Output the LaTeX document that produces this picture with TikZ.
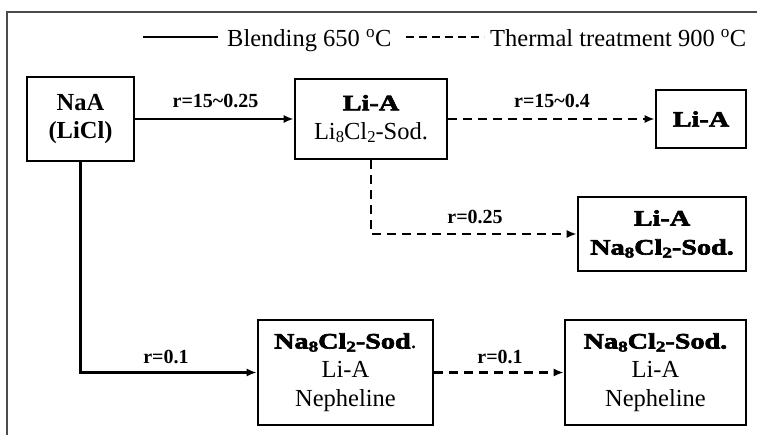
\documentclass[tikz,border=0pt]{standalone}
\usepackage{fontspec}
\setmainfont{Liberation Serif}
\newfontfamily\heavy{Liberation Serif}[UprightFont={* Bold},FakeStretch=1.28,FakeBold=3]
\usetikzlibrary{arrows.meta}
\newcommand\hv[1]{{\fontsize{22}{29}\heavy #1}}
\newcommand\sbs[1]{\raisebox{-0.3ex}{\scalebox{0.68}{#1}}}
\begin{document}
\begin{tikzpicture}[x=1pt,y=-1pt,
 box/.style={draw,line width=2.6pt,align=center,inner sep=0pt,font=\fontsize{24.5}{29}\selectfont},
 conn/.style={line width=2.2pt,-{Latex[length=10pt,width=8pt]}},
 dconn/.style={conn,dash pattern=on 9pt off 6pt},
 lab/.style={anchor=base,inner sep=0pt,font=\bfseries\fontsize{20}{24}\selectfont},
 leg/.style={anchor=base west,inner sep=0pt,font=\fontsize{24.5}{29}\selectfont}]
\useasboundingbox (0,0) rectangle (757,435);
\fill[white] (0,0) rectangle (757,435);
\draw[line width=1.5pt,black!70] (7,435) -- (7,12) -- (757,12);
% legend
\coordinate (l1a) at (143,37); \coordinate (l1b) at (218,37);
\draw[line width=1.5pt] (l1a) -- (l1b);
\node[leg] (t1) at (227,47) {Blending 650 \textsuperscript{o}C};
\coordinate (l2a) at (406,37); \coordinate (l2b) at (484,37);
\draw[line width=1.5pt,dash pattern=on 8pt off 5pt] (l2a) -- (l2b);
\node[leg] (t2) at (490,47) {Thermal treatment 900 \textsuperscript{o}C};
% boxes
\node[box,font=\bfseries\fontsize{24.5}{28}\selectfont,minimum width=107pt,minimum height=84pt] (naa) at (80.5,119) {NaA\\(LiCl)};
\node[box,minimum width=152pt,minimum height=80pt] (lia1) at (371,119) {\hv{Li-A}\\Li\sbs{8}Cl\sbs{2}-Sod.};
\node[box,minimum width=90pt,minimum height=58pt] (lia2) at (701,119) {\hv{Li-A}};
\node[box,minimum width=168pt,minimum height=74pt] (lia3) at (662,234) {\hv{Li-A}\\\hv{Na\sbs{8}Cl\sbs{2}-Sod.}};
\node[box,minimum width=175pt,minimum height=105pt] (sod1) at (345.5,372.5) {\hv{Na\sbs{8}Cl\sbs{2}-Sod}.\\Li-A\\Nepheline};
\node[box,minimum width=181pt,minimum height=105pt] (sod2) at (655.5,372.5) {\hv{Na\sbs{8}Cl\sbs{2}-Sod.}\\Li-A\\Nepheline};
% connectors
\draw[conn] (naa.east) -- (lia1.west);
\draw[dconn] (lia1.east) -- (lia2.west);
\draw[dconn] (lia1.south) |- (lia3.west);
\draw[conn] (naa.south) |- (sod1.west);
\draw[dconn] (sod1.east) -- (sod2.west);
% labels
\node[lab] (r1) at (215.5,108) {r=15\textasciitilde0.25};
\node[lab] (r2) at (552,108) {r=15\textasciitilde0.4};
\node[lab] (r3) at (475,224) {r=0.25};
\node[lab] (r4) at (166,363) {r=0.1};
\node[lab] (r5) at (500,363) {r=0.1};
\end{tikzpicture}
\end{document}
